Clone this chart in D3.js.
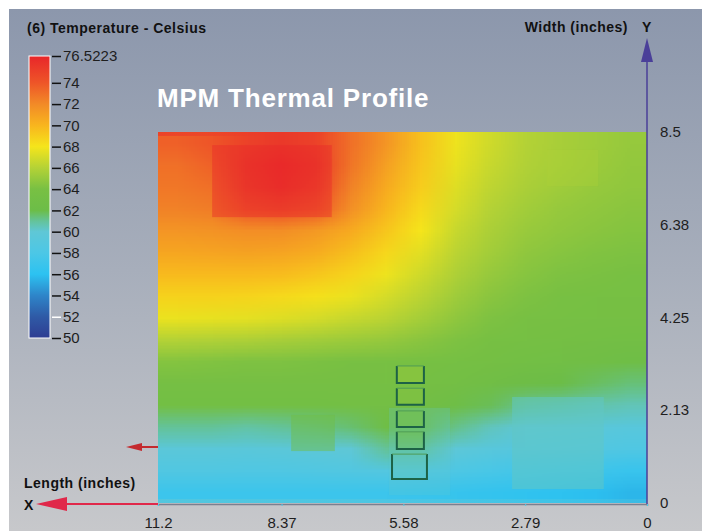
<!DOCTYPE html>
<html>
<head>
<meta charset="utf-8">
<script src="https://cdn.jsdelivr.net/npm/d3@7"></script>
<style>
  body { margin: 0; background: #fff; }
  svg { display: block; font-family: "Liberation Sans", Arial, sans-serif; }
</style>
</head>
<body>
<div id="chart"></div>
<script>
// ---- values ----
var lengthTicks = [11.2, 8.37, 5.58, 2.79, 0];
var widthTicks = [0, 2.13, 4.25, 6.38, 8.5];
var legendTicks = [50, 52, 54, 56, 58, 60, 62, 64, 66, 68, 70, 72, 74, 76.5223];

// colour map of the legend bar
var tempStops = [50, 52, 54, 56, 58, 60, 61, 62, 64, 66, 68, 70, 72, 74, 76.5223];
var tempColors = ["#2e3d92", "#2f5aa6", "#2e85c9", "#2cc2f1", "#4cc7e6", "#5fc7d6", "#64c39a",
                  "#6cbd48", "#78c043", "#b4d236", "#f5e51b", "#f8b51e", "#f28a27", "#ee5528", "#e8262a"];

// temperature grid (cell centres, inches)
var gridLength = [10.8, 10.0, 9.2, 8.4, 7.6, 6.8, 6.0, 5.2, 4.4, 3.6, 2.8, 2.0, 1.2, 0.4];
var gridWidth = [8.25, 7.75, 7.25, 6.75, 6.25, 5.75, 5.25, 4.75, 4.25, 3.75, 3.25, 2.75, 2.25, 1.75, 1.25, 0.75, 0.25];
var gridTemp = [
  [73.6, 74.0, 75.0, 75.5, 75.0, 73.0, 71.5, 69.5, 67.8, 66.8, 66.0, 65.6, 65.3, 65.0],
  [73.0, 73.5, 75.5, 76.3, 75.5, 72.8, 71.0, 69.3, 67.6, 66.6, 65.9, 65.5, 65.2, 64.9],
  [72.7, 73.0, 75.2, 76.0, 75.0, 72.3, 70.5, 69.0, 67.3, 66.3, 65.7, 65.3, 65.0, 64.8],
  [72.3, 72.5, 74.0, 74.5, 73.8, 71.7, 70.0, 68.5, 67.0, 66.0, 65.4, 65.0, 64.8, 64.6],
  [71.5, 71.6, 71.8, 71.8, 71.3, 70.5, 69.3, 68.0, 66.6, 65.7, 65.1, 64.8, 64.6, 64.4],
  [70.7, 70.8, 70.9, 70.8, 70.4, 69.6, 68.6, 67.4, 66.2, 65.4, 64.8, 64.5, 64.3, 64.2],
  [69.8, 69.8, 69.8, 69.7, 69.3, 68.7, 67.8, 66.8, 65.8, 65.0, 64.5, 64.2, 64.1, 64.0],
  [68.8, 68.8, 68.7, 68.5, 68.2, 67.7, 67.0, 66.2, 65.3, 64.6, 64.2, 64.0, 63.9, 63.8],
  [67.7, 67.6, 67.5, 67.3, 67.0, 66.6, 66.2, 65.5, 64.8, 64.2, 64.0, 63.8, 63.7, 63.6],
  [66.0, 65.9, 65.8, 65.6, 65.4, 65.2, 65.0, 64.6, 64.2, 63.9, 63.7, 63.5, 63.4, 63.2],
  [64.4, 64.3, 64.2, 64.2, 64.1, 64.0, 64.0, 63.9, 63.7, 63.5, 63.2, 63.0, 62.8, 62.5],
  [63.6, 63.6, 63.6, 63.6, 63.6, 63.6, 63.7, 63.6, 63.3, 62.8, 62.3, 62.0, 61.7, 61.4],
  [63.2, 63.2, 63.1, 63.1, 63.2, 63.3, 63.4, 63.2, 62.5, 61.8, 61.2, 61.0, 60.7, 60.5],
  [61.0, 61.0, 60.8, 61.0, 61.2, 61.5, 62.5, 62.5, 61.2, 60.4, 59.9, 59.7, 59.5, 59.3],
  [59.6, 59.6, 59.5, 59.6, 59.8, 60.0, 61.0, 61.0, 59.8, 59.3, 59.0, 58.8, 58.6, 58.4],
  [58.5, 58.5, 58.4, 58.4, 58.5, 58.6, 58.8, 58.6, 58.2, 57.8, 57.5, 57.3, 57.1, 56.8],
  [57.0, 57.0, 57.0, 57.0, 57.0, 57.0, 57.0, 56.9, 56.7, 56.5, 56.3, 56.1, 55.9, 55.6]
];

// board parts (inches) and their temperature
var parts = [
  {x0: 9.96, x1: 7.22, y0: 6.55, y1: 8.20, temp: 76.3},
  {x0: 2.29, x1: 1.12, y0: 7.26, y1: 8.09, temp: 65.8},
  {x0: 8.15, x1: 7.15, y0: 1.19, y1: 2.02, temp: 62.6},
  {x0: 5.91, x1: 4.51, y0: 0.18, y1: 2.18, temp: 60.2},
  {x0: 3.09, x1: 0.99, y0: 0.32, y1: 2.43, temp: 60.3}
];
var partOpacity = [0.45, 0.3, 0.5, 0.25, 0.55];

// board edge strips (inches) and their temperature
var edges = [
  {x0: 11.2, x1: 7.0, y0: 8.41, y1: 8.5, temp: 75.5},
  {x0: 11.2, x1: 0, y0: 0, y1: 0.09, temp: 59.5}
];

// outlined connectors
var connectors = [
  {x0: 5.73, x1: 5.11, y0: 2.75, y1: 3.14, temp: 65.5},
  {x0: 5.73, x1: 5.11, y0: 2.25, y1: 2.63, temp: 64.8},
  {x0: 5.73, x1: 5.11, y0: 1.74, y1: 2.11, temp: 64.0},
  {x0: 5.73, x1: 5.11, y0: 1.24, y1: 1.63, temp: 63.5},
  {x0: 5.84, x1: 5.04, y0: 0.55, y1: 1.12, temp: 60.5}
];

var W = 702, H = 531;

var svg = d3.select("#chart").append("svg")
  .attr("width", W)
  .attr("height", H);

var defs = svg.append("defs");

// background
var bg = defs.append("linearGradient").attr("id", "bg")
  .attr("x1", 0).attr("y1", 0).attr("x2", 0).attr("y2", 1);
bg.append("stop").attr("offset", 0).attr("stop-color", "#8c97ac");
bg.append("stop").attr("offset", 0.5).attr("stop-color", "#a7aebb");
bg.append("stop").attr("offset", 1).attr("stop-color", "#c7c8cb");

svg.append("rect").attr("width", W).attr("height", H).attr("fill", "#fff");
svg.append("rect").attr("x", 9).attr("y", 9).attr("width", W - 9).attr("height", H - 9)
  .attr("fill", "url(#bg)");

// scales
var color = d3.scaleLinear().domain(tempStops).range(tempColors);
var x = d3.scaleLinear().domain([11.2, 0]).range([158, 647]);
var y = d3.scaleLinear().domain([0, 8.5]).range([503, 132]);

// temperature field: one pixel per grid cell, smoothed when stretched
var canvas = document.createElement("canvas");
canvas.width = gridLength.length;
canvas.height = gridWidth.length;
var ctx = canvas.getContext("2d");
gridTemp.forEach(function(row, j) {
  row.forEach(function(t, i) {
    ctx.fillStyle = color(t);
    ctx.fillRect(i, j, 1, 1);
  });
});
var half = (gridLength[0] - gridLength[1]) / 2;
svg.append("image")
  .attr("href", canvas.toDataURL())
  .attr("x", x(gridLength[0] + half))
  .attr("y", y(8.5))
  .attr("width", x(0) - x(gridLength[0] + half))
  .attr("height", y(0) - y(8.5))
  .attr("preserveAspectRatio", "none")
  .style("image-rendering", "auto");

// edge strips, fading out towards x1
edges.forEach(function(d, i) {
  var g = defs.append("linearGradient").attr("id", "edge" + i);
  g.append("stop").attr("offset", 0).attr("stop-color", color(d.temp)).attr("stop-opacity", 0.75);
  g.append("stop").attr("offset", i === 0 ? 1 : 0.5).attr("stop-color", color(d.temp)).attr("stop-opacity", i === 0 ? 0 : 0.5);
  g.append("stop").attr("offset", 1).attr("stop-color", color(d.temp)).attr("stop-opacity", i === 0 ? 0 : 0.3);
});
svg.append("g").selectAll("rect")
  .data(edges)
  .enter().append("rect")
    .attr("x", function(d) { return x(d.x0); })
    .attr("y", function(d) { return y(d.y1); })
    .attr("width", function(d) { return x(d.x1) - x(d.x0); })
    .attr("height", function(d) { return y(d.y0) - y(d.y1); })
    .attr("fill", function(d, i) { return "url(#edge" + i + ")"; });

// parts
svg.append("g").selectAll("rect")
  .data(parts)
  .enter().append("rect")
    .attr("x", function(d) { return x(d.x0); })
    .attr("y", function(d) { return y(d.y1); })
    .attr("width", function(d) { return x(d.x1) - x(d.x0); })
    .attr("height", function(d) { return y(d.y0) - y(d.y1); })
    .attr("fill", function(d) { return color(d.temp); })
    .attr("opacity", function(d, i) { return partOpacity[i]; });

// connectors
var con = svg.append("g").selectAll("g")
  .data(connectors)
  .enter().append("g");
con.append("rect")
  .attr("x", function(d) { return x(d.x0); })
  .attr("y", function(d) { return y(d.y1); })
  .attr("width", function(d) { return x(d.x1) - x(d.x0); })
  .attr("height", function(d) { return y(d.y0) - y(d.y1); })
  .attr("fill", function(d) { return color(d.temp); })
  .attr("opacity", 0.35);
con.append("path")
  .attr("d", function(d) {
    return "M" + x(d.x0) + "," + y(d.y1) + "V" + y(d.y0) + "H" + x(d.x1) + "V" + y(d.y1);
  })
  .attr("fill", "none")
  .attr("stroke", "#1d6246")
  .attr("stroke-width", 2);
con.append("line")
  .attr("x1", function(d) { return x(d.x0); })
  .attr("x2", function(d) { return x(d.x1); })
  .attr("y1", function(d) { return y(d.y1); })
  .attr("y2", function(d) { return y(d.y1); })
  .attr("stroke", "#4f9c55")
  .attr("stroke-width", 1);

// bottom axis
var xAxis = svg.append("g")
  .attr("transform", "translate(0," + (y(0) + 1) + ")")
  .call(d3.axisBottom(x).tickValues(lengthTicks).tickSize(2).tickPadding(11)
    .tickFormat(function(d) { return String(d); }));
xAxis.select(".domain").attr("stroke", "#7b8090").attr("stroke-width", 1.5);
xAxis.selectAll(".tick line").attr("stroke", "#4fc8e8");
xAxis.selectAll(".tick text").attr("fill", "#1e1e1e").style("font-size", "15px");

// right axis
var yAxis = svg.append("g")
  .attr("transform", "translate(" + x(0) + ",0)")
  .call(d3.axisRight(y).tickValues(widthTicks).tickSize(0).tickPadding(13)
    .tickFormat(function(d) { return String(d); }));
yAxis.select(".domain").remove();
yAxis.selectAll(".tick text").attr("fill", "#1e1e1e").style("font-size", "15px");

// Y arrow
svg.append("line")
  .attr("x1", x(0)).attr("x2", x(0))
  .attr("y1", y(0) + 1).attr("y2", 60)
  .attr("stroke", "#4a3f99").attr("stroke-width", 1.5);
svg.append("path")
  .attr("d", "M" + x(0) + ",38L" + (x(0) - 6) + ",62L" + (x(0) + 6) + ",62Z")
  .attr("fill", "#4a3f99");

function label(tx, ty, anchor, txt) {
  return svg.append("text").attr("x", tx).attr("y", ty).attr("text-anchor", anchor)
    .style("font-size", "14px").style("font-weight", "bold")
    .style("letter-spacing", "0.5px").attr("fill", "#111")
    .text(txt);
}
label(628, 32, "end", "Width (inches)");
label(x(0), 32, "middle", "Y");

// X arrow
svg.append("line")
  .attr("x1", x(11.2)).attr("x2", 62)
  .attr("y1", y(0) + 1).attr("y2", y(0) + 1)
  .attr("stroke", "#e0284a").attr("stroke-width", 2);
svg.append("path")
  .attr("d", "M36," + (y(0) + 1) + "L67," + (y(0) - 6) + "L67," + (y(0) + 8) + "Z")
  .attr("fill", "#e0284a");
label(24, 488, "start", "Length (inches)");
label(24, 510, "start", "X");

// small red arrow at left
svg.append("line")
  .attr("x1", x(11.2)).attr("x2", 138)
  .attr("y1", 447).attr("y2", 447)
  .attr("stroke", "#c42a2e").attr("stroke-width", 2);
svg.append("path")
  .attr("d", "M126,447L142,443L142,451Z")
  .attr("fill", "#c42a2e");

// title
svg.append("text").attr("x", 157).attr("y", 107)
  .style("font-size", "26px").style("font-weight", "bold")
  .style("letter-spacing", "0.8px").attr("fill", "#fff")
  .text("MPM Thermal Profile");

// legend
label(27, 33, "start", "(6) Temperature - Celsius");

var ly = d3.scaleLinear().domain([50, 76.5223]).range([338, 56]);
var lg = defs.append("linearGradient").attr("id", "bar")
  .attr("x1", 0).attr("y1", 1).attr("x2", 0).attr("y2", 0);
tempStops.forEach(function(t, i) {
  lg.append("stop")
    .attr("offset", (t - 50) / (76.5223 - 50))
    .attr("stop-color", tempColors[i]);
});
svg.append("rect")
  .attr("x", 29).attr("y", ly(76.5223))
  .attr("width", 21).attr("height", ly(50) - ly(76.5223))
  .attr("fill", "url(#bar)")
  .attr("stroke", "#fff").attr("stroke-width", 1);

var lAxis = svg.append("g")
  .attr("transform", "translate(52,0)")
  .call(d3.axisRight(ly).tickValues(legendTicks).tickSize(9).tickPadding(2)
    .tickFormat(function(d) { return String(d); }));
lAxis.select(".domain").remove();
lAxis.selectAll(".tick line")
  .attr("stroke", function(d) { return d === 52 ? "#fff" : "#111"; })
  .attr("stroke-width", 1.5);
lAxis.selectAll(".tick text").attr("fill", "#1e1e1e").style("font-size", "15px");
</script>
</body>
</html>
